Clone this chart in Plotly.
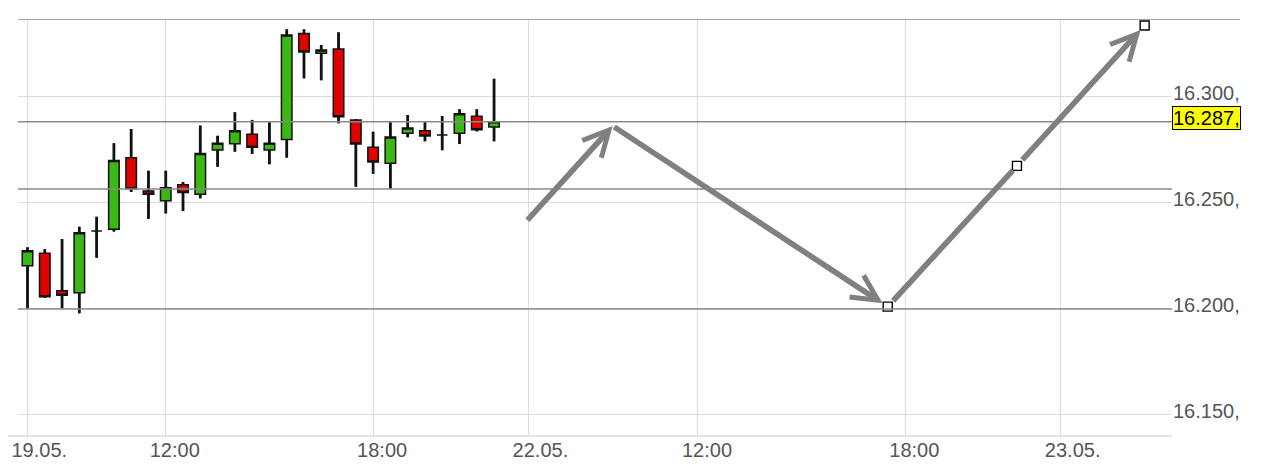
import plotly.graph_objects as go

# ---------------- data ----------------
# 30-minute bars, index 0 = 19.05. 08:00
bar_index = list(range(28))
opens = [16.2204, 16.2263, 16.2086, 16.2077, 16.2368, 16.2376, 16.2714, 16.2557,
         16.2511, 16.2586, 16.2541, 16.2750, 16.2780, 16.2824, 16.2750, 16.2799,
         16.3300, 16.3206, 16.3226, 16.2892, 16.2763, 16.2687, 16.2829, 16.2841,
         16.2821, 16.2829, 16.2909, 16.2858]
highs = [16.2291, 16.2282, 16.2330, 16.2388, 16.2435, 16.2782, 16.2849, 16.2652,
         16.2652, 16.2599, 16.2865, 16.2817, 16.2928, 16.2892, 16.2881, 16.3319,
         16.3319, 16.3245, 16.3305, 16.2896, 16.2836, 16.2881, 16.2915, 16.2881,
         16.2910, 16.2942, 16.2942, 16.3086]
lows = [16.2003, 16.2053, 16.2003, 16.1980, 16.2242, 16.2365, 16.2552, 16.2425,
        16.2451, 16.2462, 16.2522, 16.2671, 16.2742, 16.2731, 16.2683, 16.2714,
        16.3088, 16.3079, 16.2876, 16.2577, 16.2638, 16.2567, 16.2810, 16.2791,
        16.2749, 16.2778, 16.2838, 16.2791]
closes = [16.2275, 16.2058, 16.2065, 16.2360, 16.2368, 16.2701, 16.2567, 16.2541,
          16.2572, 16.2549, 16.2733, 16.2782, 16.2841, 16.2763, 16.2782, 16.3292,
          16.3212, 16.3222, 16.2907, 16.2778, 16.2693, 16.2811, 16.2854, 16.2816,
          16.2821, 16.2921, 16.2846, 16.2883]

# time axis ticks (bar-index units)
tick_pos = [0, 8, 20, 29, 38.8, 50.8, 59.8]
tick_text = ["19.05.", "12:00", "18:00", "22.05.", "12:00", "18:00", "23.05."]

# price axis ticks
price_ticks = [16.15, 16.20, 16.25, 16.30]
price_tick_text = ["16.150,", "16.200,", "16.250,", "16.300,"]

# horizontal level lines
top_level = 16.3368
level_lines = [16.2566, 16.2000]
last_price = 16.2883
last_price_text = "16.287,"

# drawn forecast path (start, turning points)
path_x = [28.85, 33.87, 49.78, 57.26, 64.65]
path_y = [16.2412, 16.2863, 16.2011, 16.2675, 16.3337]

# ---------------- figure ----------------
FONT = "Liberation Sans, Arial, sans-serif"
GRID = "#dddddd"
LEVEL = "#8a8a8a"
ARROW = "#808080"
PLOT_W = 1154

fig = go.Figure()

fig.add_trace(go.Candlestick(
    x=bar_index, open=opens, high=highs, low=lows, close=closes,
    increasing=dict(fillcolor="#3cb815", line=dict(color="#111111", width=1.5)),
    decreasing=dict(fillcolor="#e00000", line=dict(color="#111111", width=1.5)),
    whiskerwidth=0, hoverinfo="skip", showlegend=False,
))

# thicker wicks (above / below the body)
wx, wy = [], []
for i, o, h, l, c in zip(bar_index, opens, highs, lows, closes):
    top, bot = max(o, c), min(o, c)
    wx += [i, i, None, i, i, None]
    wy += [h, top, None, bot, l, None]
fig.add_trace(go.Scatter(x=wx, y=wy, mode="lines",
                         line=dict(color="#111111", width=2.8),
                         hoverinfo="skip", showlegend=False))

# handle squares on the drawn path
fig.add_trace(go.Scatter(x=path_x[2:], y=path_y[2:], mode="markers",
                         marker=dict(symbol="square", size=9, color="white",
                                     line=dict(color="black", width=1.4)),
                         hoverinfo="skip", showlegend=False))

# path arrows
segments = [(0, 1, 5, 0, 0), (1, 2, 5, 0, 6), (2, 3, 0, 6, 6), (3, 4, 5, 6, 6)]
for a, b, head, s0, s1 in segments:
    fig.add_annotation(
        x=path_x[b], y=path_y[b], ax=path_x[a], ay=path_y[a],
        xref="x", yref="y", axref="x", ayref="y", text="",
        showarrow=True, arrowhead=head, arrowsize=0.9, arrowwidth=5.6,
        arrowcolor=ARROW, standoff=s1, startstandoff=s0,
    )

# level lines
fig.add_shape(type="line", xref="paper", yref="y", x0=0, x1=(1232 - 10) / PLOT_W,
              y0=top_level, y1=top_level, line=dict(color=LEVEL, width=1.5))
for lv in level_lines + [last_price]:
    fig.add_shape(type="line", xref="paper", yref="y", x0=0, x1=1,
                  y0=lv, y1=lv, line=dict(color=LEVEL, width=1.5))
# bottom axis line
fig.add_shape(type="line", xref="paper", yref="paper", x0=-10 / PLOT_W, x1=1,
              y0=0, y1=0, line=dict(color=GRID, width=1.5))

# last price label
fig.add_annotation(xref="paper", x=1, xanchor="left", yref="y", y=last_price,
                   yanchor="middle", yshift=4, text=last_price_text, showarrow=False,
                   font=dict(family=FONT, size=20, color="black"),
                   bgcolor="#ffff00", bordercolor="black", borderwidth=1, borderpad=0)

# page body has an 8px margin -> figure is 1256x460 and offsets reduced by 8
fig.update_layout(
    width=1256, height=460,
    margin=dict(l=10, r=92, t=11, b=32, autoexpand=False),
    paper_bgcolor="white", plot_bgcolor="white",
    boxgap=0.13,
    showlegend=False,
    font=dict(family=FONT, size=20, color="#555555"),
    xaxis=dict(range=[-0.5498, 66.233], tickvals=tick_pos, ticktext=tick_text,
               showgrid=True, gridcolor=GRID, gridwidth=1, zeroline=False,
               showline=False, ticks="", rangeslider=dict(visible=False),
               automargin=False,
               ticklabelposition="outside right", ticklabelshift=-16,
               tickfont=dict(family=FONT, size=20, color="#555555")),
    yaxis=dict(range=[16.14009, 16.33679], side="right", tickvals=price_ticks,
               ticktext=price_tick_text, showgrid=True, gridcolor=GRID, gridwidth=1,
               zeroline=False, showline=False, ticks="", ticklabelshift=-4,
               automargin=False,
               tickfont=dict(family=FONT, size=20, color="#555555")),
)

fig.write_html("out.html")
